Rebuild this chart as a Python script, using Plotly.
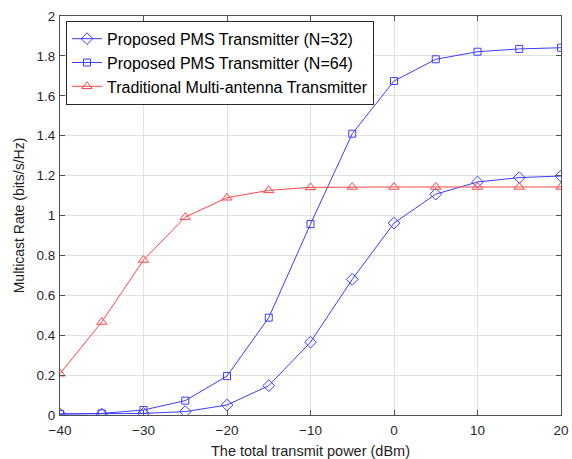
import plotly.graph_objects as go

power_dbm = [-40, -35, -30, -25, -20, -15, -10, -5, 0, 5, 10, 15, 20]
pms_n32 = [0.005, 0.005, 0.008, 0.017, 0.05, 0.147, 0.365, 0.68, 0.962, 1.107, 1.168, 1.19, 1.198]
pms_n64 = [0.005, 0.008, 0.025, 0.072, 0.195, 0.488, 0.957, 1.41, 1.674, 1.783, 1.821, 1.835, 1.841]
traditional = [0.207, 0.466, 0.777, 0.992, 1.089, 1.126, 1.141, 1.143, 1.143, 1.143, 1.143, 1.143, 1.143]

names = ["Proposed PMS Transmitter (N=32)",
         "Proposed PMS Transmitter (N=64)",
         "Traditional Multi-antenna Transmitter"]

blue = "rgb(60,60,255)"
red = "rgb(255,70,70)"

fig = go.Figure()
fig.add_trace(go.Scatter(x=power_dbm, y=pms_n32, name=names[0], mode="lines+markers",
                         line=dict(color=blue, width=1),
                         marker=dict(symbol="diamond-open", size=9, color=blue, line=dict(width=1))))
fig.add_trace(go.Scatter(x=power_dbm, y=pms_n64, name=names[1], mode="lines+markers",
                         line=dict(color=blue, width=1),
                         marker=dict(symbol="square-open", size=7, color=blue, line=dict(width=1))))
fig.add_trace(go.Scatter(x=power_dbm, y=traditional, name=names[2], mode="lines+markers",
                         line=dict(color=red, width=1),
                         marker=dict(symbol="triangle-up-open", size=9, color=red, line=dict(width=1))))

axis_common = dict(showline=True, linecolor="rgb(80,80,80)", linewidth=1, mirror="ticks",
                   ticks="inside", ticklen=5, tickcolor="rgb(80,80,80)",
                   showgrid=True, gridcolor="rgb(225,225,225)", gridwidth=1,
                   zeroline=False, automargin=False,
                   tickfont=dict(size=13.5, color="rgb(40,40,40)"))

fig.update_layout(
    width=572, height=459,
    margin=dict(l=60, r=11, t=16, b=44),
    paper_bgcolor="white", plot_bgcolor="white",
    font=dict(family="Liberation Sans, Arial, sans-serif", color="rgb(30,30,30)"),
    xaxis=dict(range=[-40, 20], dtick=10, ticklabelstandoff=3,
               title=dict(text="The total transmit power (dBm)", font=dict(size=14.5), standoff=8),
               **axis_common),
    yaxis=dict(range=[0, 2], dtick=0.2, tickformat="~g", ticklabelstandoff=1,
               title=dict(text="Multicast Rate (bits/s/Hz)", font=dict(size=14), standoff=8),
               **axis_common),
    legend=dict(x=0.012, y=0.988, xanchor="left", yanchor="top",
                bgcolor="white", bordercolor="rgb(40,40,40)", borderwidth=1,
                font=dict(size=16, color="black"), tracegroupgap=0,
                itemwidth=30),
    showlegend=True,
)

fig.write_html("out.html")
